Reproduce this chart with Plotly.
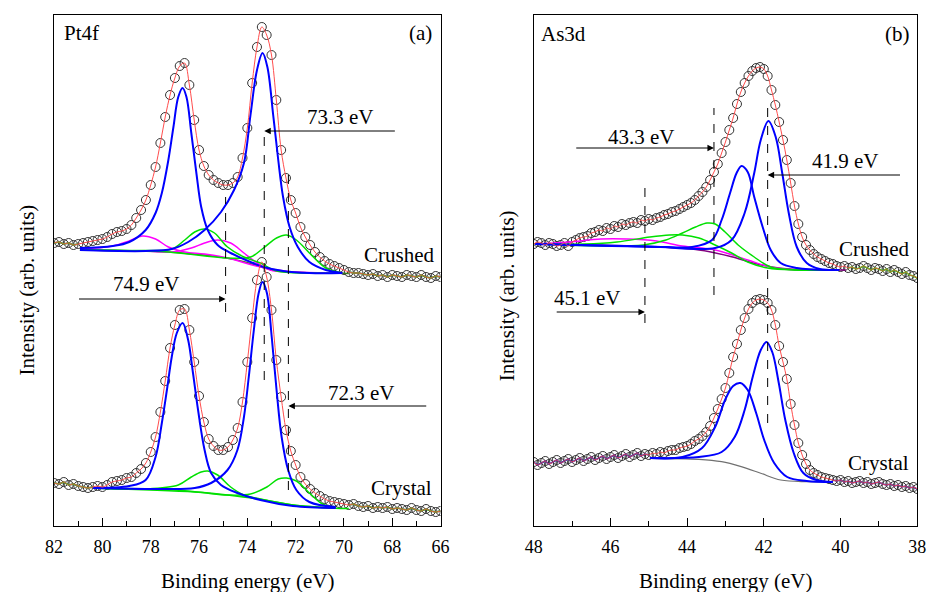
import numpy as np
import plotly.graph_objects as go

# ---------------- Panel (a): Pt4f ----------------
E_a = [82.0, 81.8, 81.6, 81.4, 81.2, 81.0, 80.8, 80.6, 80.4, 80.2,
       80.0, 79.8, 79.6, 79.4, 79.2, 79.0, 78.8, 78.6, 78.4, 78.2,
       78.0, 77.8, 77.6, 77.4, 77.2, 77.0, 76.8, 76.6, 76.4, 76.2,
       76.0, 75.8, 75.6, 75.4, 75.2, 75.0, 74.8, 74.6, 74.4, 74.2,
       74.0, 73.8, 73.6, 73.4, 73.2, 73.0, 72.8, 72.6, 72.4, 72.2,
       72.0, 71.8, 71.6, 71.4, 71.2, 71.0, 70.8, 70.6, 70.4, 70.2,
       70.0, 69.8, 69.6, 69.4, 69.2, 69.0, 68.8, 68.6, 68.4, 68.2,
       68.0, 67.8, 67.6, 67.4, 67.2, 67.0, 66.8, 66.6, 66.4, 66.2, 66.0]

crushed_a = [282, 283, 281, 282, 280, 281, 282, 283, 284, 285,
             286, 288, 291, 293, 294, 296, 300, 307, 315, 325,
             340, 358, 382, 408, 430, 447, 459, 462, 440, 405,
             375, 359, 350, 345, 342, 340, 340, 342, 348, 367,
             397, 442, 478, 498, 490, 470, 425, 375, 347, 325,
             312, 298, 288, 280, 273, 268, 264, 261, 259, 257,
             255, 253, 252, 252, 251, 250, 251, 249, 250, 248,
             250, 249, 248, 250, 249, 248, 250, 248, 247, 249, 248]

crystal_a = [42, 41, 43, 40, 41, 39, 38, 37, 38, 39,
             38, 40, 43, 44, 45, 47, 48, 52, 56, 62,
             73, 88, 113, 144, 177, 200, 215, 216, 195, 163,
             129, 103, 86, 79, 75, 75, 78, 85, 97, 123,
             163, 207, 245, 263, 248, 215, 165, 128, 95, 74,
             60, 48, 41, 36, 32, 29, 26, 24, 23, 22,
             21, 20, 21, 19, 18, 19, 17, 18, 17, 18,
             16, 17, 16, 15, 17, 15, 14, 16, 14, 13, 14]

# crushed (a) fitted components
bgc_a_E = [80.93, 79.5, 77.54, 76.18, 74.82, 74.14, 73.46, 72.79, 71.43, 70.07, 69.8]
bgc_a_h = [275, 274.5, 273.3, 271, 266.7, 263.3, 258.3, 254.3, 252.3, 251.7, 251.5]
b1c_a_E = [80.93, 79.57, 78.89, 78.21, 77.80, 77.54, 77.27, 77.06, 76.86, 76.68, 76.52,
           76.32, 76.11, 75.91, 75.64, 75.23, 74.69, 73.87, 73.33, 72.52, 71.43, 70.07]
b1c_a_h = [277, 279, 283, 295, 312, 332, 365, 398, 428, 437, 428,
           392, 352, 318, 295, 280, 272, 263, 258, 254, 252, 252]
b2c_a_E = [80.93, 78.21, 77.13, 76.45, 75.77, 75.09, 74.55, 74.14, 73.87, 73.60,
           73.37, 73.17, 72.93, 72.72, 72.52, 72.25, 71.91, 71.43, 70.75, 70.07]
b2c_a_h = [275, 274, 276, 283, 295, 313, 335, 362, 410, 455,
           472, 458, 410, 365, 328, 298, 278, 263, 255, 252]
m1c_a_E = [80.93, 79.57, 78.89, 78.35, 77.80, 77.27, 76.59, 75.77, 74.82, 73.46, 72.11, 70.07]
m1c_a_h = [276, 279, 284, 289, 286, 278, 273, 271, 267, 258, 253, 252]
m2c_a_E = [80.93, 78.21, 77.13, 76.32, 75.77, 75.23, 74.69, 74.14, 73.60, 73.06, 72.11, 70.07]
m2c_a_h = [275, 274, 273, 277, 282, 285, 282, 272, 262, 255, 253, 252]
g1c_a_E = [80.93, 78.21, 77.13, 76.59, 76.18, 75.77, 75.36, 74.82, 74.14, 73.46, 72.79, 71.43, 70.07]
g1c_a_h = [275, 274.5, 276, 285, 293, 296, 292, 278, 268, 262, 254, 252, 252]
g2c_a_E = [80.93, 77.54, 74.82, 73.87, 73.33, 72.79, 72.38, 71.97, 71.43, 70.75, 70.07]
g2c_a_h = [275, 273.5, 267, 268, 277, 287, 290, 285, 272, 257, 252]

# crystal (a) fitted components
bgx_a_E = [80.39, 77.54, 76.18, 74.82, 73.46, 72.11, 70.34, 69.8]
bgx_a_h = [36.7, 35.7, 33.3, 30, 25.7, 20, 16.7, 16.5]
b1x_a_E = [80.39, 78.89, 78.21, 77.80, 77.54, 77.33, 77.13, 76.92, 76.68, 76.45,
           76.25, 76.04, 75.77, 75.50, 75.09, 74.41, 73.46, 72.11, 70.34]
b1x_a_h = [37, 39, 45, 68, 102, 135, 168, 192, 202, 185,
           152, 115, 75, 52, 40, 32, 25, 19, 17]
b2x_a_E = [80.39, 77.54, 76.18, 75.50, 74.82, 74.41, 74.14, 73.94, 73.73, 73.53,
           73.37, 73.19, 72.99, 72.79, 72.58, 72.31, 71.97, 71.43, 70.34]
b2x_a_h = [37, 36, 37, 42, 55, 75, 108, 148, 195, 232,
           243, 232, 188, 135, 88, 55, 35, 23, 18]
g1x_a_E = [80.39, 78.21, 76.86, 76.32, 75.91, 75.64, 75.23, 74.69, 74.14, 73.46, 72.11, 70.34]
g1x_a_h = [37, 36, 40, 48, 53, 54, 50, 38, 30, 26, 20, 17]
g2x_a_E = [80.39, 76.18, 74.82, 73.87, 73.19, 72.72, 72.38, 71.97, 71.43, 70.89, 70.34]
g2x_a_h = [37, 33, 30, 31, 38, 46, 47, 44, 32, 21, 17]

# ---------------- Panel (b): As3d ----------------
E_b = [48.0, 47.9, 47.8, 47.7, 47.6, 47.5, 47.4, 47.3, 47.2, 47.1,
       47.0, 46.9, 46.8, 46.7, 46.6, 46.5, 46.4, 46.3, 46.2, 46.1,
       46.0, 45.9, 45.8, 45.7, 45.6, 45.5, 45.4, 45.3, 45.2, 45.1,
       45.0, 44.9, 44.8, 44.7, 44.6, 44.5, 44.4, 44.3, 44.2, 44.1,
       44.0, 43.9, 43.8, 43.7, 43.6, 43.5, 43.4, 43.3, 43.2, 43.1,
       43.0, 42.9, 42.8, 42.7, 42.6, 42.5, 42.4, 42.3, 42.2, 42.1,
       42.0, 41.9, 41.8, 41.7, 41.6, 41.5, 41.4, 41.3, 41.2, 41.1,
       41.0, 40.9, 40.8, 40.7, 40.6, 40.5, 40.4, 40.3, 40.2, 40.1,
       40.0, 39.9, 39.8, 39.7, 39.6, 39.5, 39.4, 39.3, 39.2, 39.1,
       39.0, 38.9, 38.8, 38.7, 38.6, 38.5, 38.4, 38.3, 38.2, 38.1, 38.0]

crushed_b = [283, 285, 284, 282, 284, 283, 281, 282, 284, 281,
             285, 287, 289, 290, 291, 294, 295, 297, 296, 299,
             298, 301, 300, 303, 302, 304, 305, 304, 307, 306,
             308, 307, 309, 310, 312, 313, 315, 316, 318, 320,
             322, 324, 327, 331, 335, 340, 347, 355, 363, 374,
             385, 397, 409, 423, 435, 444, 451, 456, 459, 460,
             458, 451, 437, 422, 405, 387, 367, 344, 321, 303,
             290, 282, 277, 273, 270, 268, 266, 264, 263, 261,
             260, 261, 259, 260, 258, 259, 261, 259, 257, 259,
             258, 256, 258, 255, 257, 255, 253, 255, 252, 251, 249]

crystal_b = [65, 62, 64, 66, 63, 65, 67, 64, 66, 68,
             65, 67, 69, 66, 68, 70, 67, 69, 71, 68,
             70, 72, 69, 71, 73, 70, 72, 74, 71, 73,
             72, 74, 73, 75, 74, 76, 77, 77, 79, 80,
             81, 83, 86, 88, 91, 95, 101, 109, 118, 128,
             139, 154, 170, 183, 197, 209, 218, 224, 227, 228,
             227, 224, 217, 202, 181, 165, 148, 123, 102, 84,
             72, 63, 57, 54, 52, 50, 49, 48, 47, 46,
             47, 45, 46, 44, 45, 46, 44, 45, 43, 44,
             45, 43, 42, 43, 41, 42, 40, 41, 39, 40, 38]

# crushed (b) fitted components
bgc_b_E = [47.96, 46.68, 44.97, 43.69, 42.84, 42.25, 41.56, 40.71, 39.86]
bgc_b_h = [283, 282, 280.3, 277, 270.3, 263.7, 258.7, 257, 257]
b1c_b_E = [47.96, 44.97, 43.27, 42.84, 42.50, 42.25, 42.08, 41.88, 41.69, 41.52,
           41.35, 41.14, 40.88, 40.54, 40.03]
b1c_b_h = [283, 280.5, 279, 287, 314, 354, 387, 406, 390, 354,
           314, 280, 264, 258, 257]
b2c_b_E = [47.96, 44.55, 43.87, 43.35, 43.10, 42.88, 42.71, 42.58, 42.42, 42.25,
           42.03, 41.82, 41.56, 41.14, 40.29]
b2c_b_h = [283, 280, 280, 287, 307, 334, 354, 361, 355, 330,
           300, 277, 264, 259, 257]
g1c_b_E = [47.96, 45.14, 44.55, 44.12, 43.78, 43.48, 43.27, 43.01, 42.67, 42.25, 41.82, 41.14, 40.29]
g1c_b_h = [283, 282, 287, 294, 300, 304, 303, 295, 282, 270, 260, 257, 257]
g2c_b_E = [47.96, 46.68, 45.83, 44.97, 44.46, 44.12, 43.69, 43.27, 42.84, 42.42, 41.90, 41.14, 40.29]
g2c_b_h = [283, 283, 285, 290, 292, 292, 289, 282, 274, 265, 259, 257, 257]
m1c_b_E = [47.96, 47.10, 46.25, 45.57, 44.80, 44.12, 43.27, 42.42, 41.82, 41.14, 40.29]
m1c_b_h = [283, 285, 288, 288, 286, 281, 277, 267, 260, 257, 257]

# crystal (b) fitted components
bgx_b_E = [44.97, 43.69, 43.10, 42.59, 42.08, 41.56, 40.88, 40.20]
bgx_b_h = [68.7, 67.7, 65.3, 60.3, 53.7, 47, 45.3, 45.3]
b1x_b_E = [44.97, 43.69, 43.10, 42.76, 42.50, 42.29, 42.08, 41.93, 41.78, 41.61,
           41.44, 41.22, 40.97, 40.63, 40.20]
b1x_b_h = [69, 70, 75, 90, 117, 150, 177, 185, 175, 144,
           107, 74, 54, 47, 45]
b2x_b_E = [44.97, 44.12, 43.61, 43.27, 43.01, 42.80, 42.61, 42.42, 42.20, 41.99,
           41.73, 41.39, 40.88, 40.20]
b2x_b_h = [69, 70, 79, 100, 127, 141, 144, 137, 114, 87, 64, 50, 46, 45]

# peak-position markers: (energy, label, dashed-line bottom, top, arrow height, arrow tail energy, label energy, label height)
marks_a = [(74.9, "74.9 eV", 213, 328, 226, 81.03, 78.18, 241),
           (73.3, "73.3 eV", 145, 395, 394, 67.83, 70.14, 408),
           (72.3, "72.3 eV", 35, 358, 119, 66.53, 69.29, 132)]
marks_b = [(43.3, "43.3 eV", 232, 419, 379, 46.93, 45.19, 390),
           (41.9, "41.9 eV", 104, 425, 352, 38.41, 39.87, 366),
           (45.1, "45.1 eV", 204, 342, 215, 47.44, 46.59, 229)]

FONT = "Liberation Serif"
fig = go.Figure()


def line(xs, ys, color, width, ax, shape="spline"):
    fig.add_trace(go.Scatter(x=xs, y=ys, mode="lines", line=dict(color=color, width=width, shape=shape),
                             xaxis=ax[0], yaxis=ax[1], showlegend=False, hoverinfo="skip"))


def data(xs, ys, ax):
    fig.add_trace(go.Scatter(x=xs, y=ys, mode="markers",
                             marker=dict(symbol="circle-open", size=9, color="#333333", line=dict(width=1)),
                             xaxis=ax[0], yaxis=ax[1], showlegend=False, hoverinfo="skip"))


def outside(xs, ys, lo, hi):
    xs = np.array(xs, dtype=float)
    ys = np.array(ys, dtype=float)
    return xs, np.where((xs > lo) & (xs < hi), np.nan, ys)


A = ("x", "y")
B = ("x2", "y2")
GREEN = "#00e000"
BLUE = "#0000ff"
MAG = "#ff00ff"
RED = "#ff4d4d"

# panel a
data(E_a, crushed_a, A)
data(E_a, crystal_a, A)
xo, yo = outside(E_a, crushed_a, 69.8, 80.93)
line(xo, yo, "#a000a0", 1.5, A, "linear")
line(xo, yo, GREEN, 1.5, A, "linear")
xo, yo = outside(E_a, crystal_a, 69.8, 80.39)
line(xo, yo, "#a000a0", 1.5, A, "linear")
line(xo, yo, GREEN, 1.5, A, "linear")
line(bgc_a_E, bgc_a_h, "#3c7a1a", 1.5, A)
line(m1c_a_E, m1c_a_h, MAG, 1.5, A)
line(m2c_a_E, m2c_a_h, MAG, 1.5, A)
line(g1c_a_E, g1c_a_h, GREEN, 1.5, A)
line(g2c_a_E, g2c_a_h, GREEN, 1.5, A)
line(b1c_a_E, b1c_a_h, BLUE, 2, A)
line(b2c_a_E, b2c_a_h, BLUE, 2, A)
line(bgx_a_E, bgx_a_h, GREEN, 1.5, A)
line(g1x_a_E, g1x_a_h, GREEN, 1.5, A)
line(g2x_a_E, g2x_a_h, GREEN, 1.5, A)
line(b1x_a_E, b1x_a_h, BLUE, 2, A)
line(b2x_a_E, b2x_a_h, BLUE, 2, A)
line(E_a, crushed_a, RED, 1, A)
line(E_a, crystal_a, RED, 1, A)

# panel b
data(E_b, crushed_b, B)
data(E_b, crystal_b, B)
xo, yo = outside(E_b, crushed_b, 39.86, 47.96)
line(xo, yo, GREEN, 1.5, B, "linear")
xo, yo = outside(E_b, crystal_b, 40.2, 44.97)
line(xo, yo, "#2020b0", 1.5, B, "linear")
line(bgc_b_E, bgc_b_h, "#800080", 1.5, B)
line(m1c_b_E, m1c_b_h, MAG, 1.5, B)
line(g1c_b_E, g1c_b_h, GREEN, 1.5, B)
line(g2c_b_E, g2c_b_h, GREEN, 1.5, B)
line(b1c_b_E, b1c_b_h, BLUE, 2, B)
line(b2c_b_E, b2c_b_h, BLUE, 2, B)
line(bgx_b_E, bgx_b_h, "#707070", 1.2, B)
line(b1x_b_E, b1x_b_h, BLUE, 2, B)
line(b2x_b_E, b2x_b_h, BLUE, 2, B)
line(E_b, crushed_b, RED, 1, B)
line(E_b, crystal_b, RED, 1, B)

shapes = []
annotations = []
for marks, xr, yr in ((marks_a, "x", "y"), (marks_b, "x2", "y2")):
    for e, lab, y0, y1, ya, etail, elab, ylab in marks:
        shapes.append(dict(type="line", xref=xr, yref=yr, x0=e, x1=e, y0=y0, y1=y1,
                           line=dict(color="black", width=1, dash="dash")))
        annotations.append(dict(x=e, y=ya, ax=etail, ay=ya, xref=xr, yref=yr, axref=xr, ayref=yr,
                                text="", showarrow=True, arrowhead=2, arrowsize=1.3, arrowwidth=1,
                                arrowcolor="black"))
        annotations.append(dict(x=elab, y=ylab, xref=xr, yref=yr, text=lab, showarrow=False,
                                xanchor="center", yanchor="middle",
                                font=dict(family=FONT, size=21, color="black")))


def txt(x, y, s, xr, yr, anchor):
    annotations.append(dict(x=x, y=y, xref=xr, yref=yr, text=s, showarrow=False, xanchor=anchor,
                            yanchor="middle", font=dict(family=FONT, size=21, color="black")))


txt(81.68, 492, "Pt4f", "x", "y", "left")
txt(66.28, 492, "(a)", "x", "y", "right")
txt(66.2, 270, "Crushed", "x", "y", "right")
txt(66.28, 37, "Crystal", "x", "y", "right")
txt(47.85, 493, "As3d", "x2", "y2", "left")
txt(38.13, 493, "(b)", "x2", "y2", "right")
txt(38.15, 278, "Crushed", "x2", "y2", "right")
txt(38.15, 64, "Crystal", "x2", "y2", "right")

for xp, yp in ((18 / 937, 0.462), (508 / 937, 0.450)):
    annotations.append(dict(x=xp, y=yp, xref="paper", yref="paper", text="Intensity (arb. units)",
                            textangle=-90, showarrow=False, xanchor="center", yanchor="middle",
                            font=dict(family=FONT, size=21, color="black")))
for xp in (243 / 937, 731 / 937):
    annotations.append(dict(x=xp, y=-0.1076, xref="paper", yref="paper", text="Binding energy (eV)",
                            showarrow=False, xanchor="center", yanchor="middle",
                            font=dict(family=FONT, size=21, color="black")))

xcommon = dict(showline=True, linecolor="black", linewidth=1.2, mirror=True, ticks="inside", ticklen=8,
               tickwidth=1.2, tickcolor="black", dtick=2, showgrid=False, zeroline=False,
               tickfont=dict(family=FONT, size=18, color="black"), ticklabelstandoff=4,
               minor=dict(ticks="inside", ticklen=5, dtick=1, tickcolor="black", tickwidth=1.2, showgrid=False))
ycommon = dict(showline=True, linecolor="black", linewidth=1.2, mirror=True, ticks="", showticklabels=False,
               showgrid=False, zeroline=False)

fig.update_layout(
    width=937, height=592, margin=dict(l=0, r=0, t=15, b=66),
    paper_bgcolor="white", plot_bgcolor="white", showlegend=False,
    font=dict(family=FONT, color="black"),
    xaxis=dict(domain=[46 / 937, 440 / 937], range=[82, 66], anchor="y", **xcommon),
    xaxis2=dict(domain=[535 / 937, 926 / 937], range=[48, 38], anchor="y2", **xcommon),
    yaxis=dict(domain=[0, 1], range=[-1, 510], anchor="x", **ycommon),
    yaxis2=dict(domain=[0, 1], range=[1, 512], anchor="x2", **ycommon),
    shapes=shapes, annotations=annotations,
)

fig.write_html("out.html")
